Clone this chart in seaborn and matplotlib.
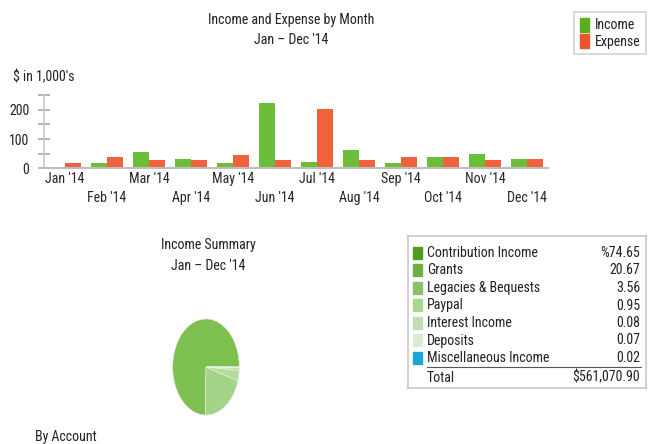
import matplotlib
matplotlib.use("Agg")
import matplotlib.pyplot as plt
import matplotlib.patches as mpatches
import matplotlib.font_manager as fm
import seaborn as sns
import pandas as pd
import numpy as np

# ---------------- data ----------------
months = ["Jan '14", "Feb '14", "Mar '14", "Apr '14", "May '14", "Jun '14",
          "Jul '14", "Aug '14", "Sep '14", "Oct '14", "Nov '14", "Dec '14"]
income = [0, 17, 57, 32, 17, 223, 22, 62, 17, 38, 48, 32]
expense = [17, 38, 28, 28, 44, 28, 203, 28, 38, 38, 28, 32]
series = ["Income", "Expense"]

accounts = ["Contribution Income", "Grants", "Legacies & Bequests", "Paypal",
            "Interest Income", "Deposits", "Miscellaneous Income"]
shares = [74.65, 20.67, 3.56, 0.95, 0.08, 0.07, 0.02]
share_labels = ["%74.65", "20.67", "3.56", "0.95", "0.08", "0.07", "0.02"]
total_label = "$561,070.90"

# ---------------- style ----------------
sns.set_theme(style="white")
names = {f.name for f in fm.fontManager.ttflist}
prefs = ["Liberation Sans Narrow", "Roboto Condensed", "DejaVu Sans Condensed",
         "Open Sans Condensed", "Noto Sans Condensed", "Liberation Sans"]
chosen = next(p for p in prefs if p in names or p == "Liberation Sans")
condensed = chosen != "Liberation Sans"
plt.rcParams["font.family"] = [chosen, "DejaVu Sans"]
plt.rcParams["text.color"] = "#222222"

W, H = 649, 444
fig = plt.figure(figsize=(W / 100, H / 100), dpi=100)

def fx(x):
    return x / W

def fy(y):
    return 1 - y / H

FS = 10 if condensed else 9.2
green = "#6cbd38"
orange = "#f0623b"

# ---------------- bar chart ----------------
df = pd.DataFrame({
    "month": months * 2,
    "value": income + expense,
    "series": [series[0]] * len(months) + [series[1]] * len(months),
})
ax = fig.add_axes([fx(44), fy(168.3), fx(548) - fx(44), (250 * 0.293) / H])
sns.barplot(data=df, x="month", y="value", hue="series", order=months,
            hue_order=series, palette=[green, orange], width=0.78,
            saturation=1, ax=ax, legend=False, edgecolor="none")
ax.set_xlim(-0.5, len(months) - 0.5)
ax.set_ylim(0, 250)
ax.set_xlabel("")
ax.set_ylabel("")
ax.set_yticks([0, 100, 200])
ax.set_yticks([50, 150, 250], minor=True)
ax.tick_params(axis="y", which="both", direction="inout", length=9, width=1.4,
               color="#b5b5b5", left=True, labelsize=FS, pad=6, labelcolor="#222222")
ticklabels = [m if i % 2 == 0 else "\n" + m for i, m in enumerate(months)]
ax.set_xticks(range(len(months)))
ax.set_xticklabels(ticklabels, fontsize=FS, linespacing=1.45)
ax.tick_params(axis="x", length=0, pad=3)
for s in ["top", "right"]:
    ax.spines[s].set_visible(False)
ax.spines["left"].set_color("#c8c8c8")
ax.spines["left"].set_linewidth(1.2)
ax.spines["bottom"].set_color("#bdbdbd")
ax.spines["bottom"].set_linewidth(1.5)
ax.grid(False)

fig.text(fx(291), fy(20), "Income and Expense by Month", ha="center", va="center", fontsize=FS)
fig.text(fx(291), fy(40), "Jan \u2013 Dec '14", ha="center", va="center", fontsize=FS)
fig.text(fx(13), fy(77), "$ in 1,000's", ha="left", va="center", fontsize=FS)

handles = [mpatches.Patch(color="#5aae22", label=series[0]),
           mpatches.Patch(color="#e9572f", label=series[1])]
leg = fig.legend(handles=handles, loc="upper right", bbox_to_anchor=(fx(646), fy(12)),
                 fontsize=FS, frameon=True, fancybox=False, handlelength=0.7,
                 handleheight=1.2, handletextpad=0.4, borderpad=0.4,
                 labelspacing=0.1, borderaxespad=0)
leg.get_frame().set_edgecolor("#c8c8c8")
leg.get_frame().set_linewidth(1.2)

# ---------------- pie ----------------
fig.text(fx(208), fy(245), "Income Summary", ha="center", va="center", fontsize=FS)
fig.text(fx(208), fy(266), "Jan \u2013 Dec '14", ha="center", va="center", fontsize=FS)

pie_colors = ["#7dc050", "#a3d386", "#b4da9c", "#c4e2b0", "#d4eac8", "#e3f1dc", "#22ade0"]
pax = fig.add_axes([fx(172), fy(416), fx(240) - fx(172), 98 / H])
pax.pie(shares, colors=pie_colors, startangle=0, counterclock=True,
        wedgeprops=dict(linewidth=0.4, edgecolor="#e8f3e0"))
pax.set_aspect("auto")
pax.set_xlim(-1.02, 1.02)
pax.set_ylim(-1.02, 1.02)
pax.axis("off")

# ---------------- table / legend box ----------------
tax = fig.add_axes([fx(408), fy(388), fx(646) - fx(408), (388 - 236) / H])
tax.set_xlim(408, 646)
tax.set_ylim(388, 236)
tax.set_xticks([])
tax.set_yticks([])
for s in tax.spines.values():
    s.set_color("#c8c8c8")
    s.set_linewidth(1.2)

sq_colors = ["#519d20", "#6dae40", "#8cc06c", "#aad78e", "#c0dcb1", "#dcebd5", "#1aa6d7"]
row_y = [253, 270.5, 288, 305.5, 323, 340.5, 358]
for name, lab, col, yy in zip(accounts, share_labels, sq_colors, row_y):
    tax.add_patch(mpatches.Rectangle((413, yy - 6), 9, 12, color=col))
    tax.text(427, yy, name, ha="left", va="center", fontsize=FS)
    tax.text(640, yy, lab, ha="right", va="center", fontsize=FS)
tax.plot([427, 641], [367.5, 367.5], color="#555555", lw=0.8)
tax.text(427, 377.5, "Total", ha="left", va="center", fontsize=FS)
tax.text(640, 377.5, total_label, ha="right", va="center", fontsize=FS)

fig.text(fx(35), fy(437), "By Account", ha="left", va="center", fontsize=FS)

fig.savefig("out.png", dpi=100)
